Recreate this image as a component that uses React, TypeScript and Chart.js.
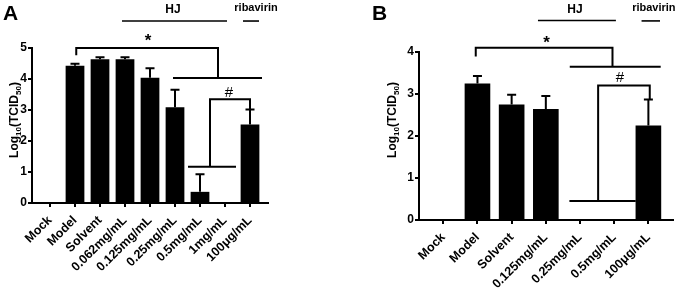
import React, { useEffect, useRef } from "react";
import { Chart, registerables } from "chart.js";
Chart.register(...registerables);

// ---------- Panel A data ----------
const categoriesA = ["Mock", "Model", "Solvent", "0.062mg/mL", "0.125mg/mL", "0.25mg/mL", "0.5mg/mL", "1mg/mL", "100μg/mL"];
const valuesA = [0, 4.43, 4.64, 4.64, 4.04, 3.09, 0.36, 0, 2.53];
const errorsA = [null, 0.06, 0.06, 0.06, 0.31, 0.56, 0.57, null, 0.49];
const yTicksA = [0, 1, 2, 3, 4, 5];

// ---------- Panel B data ----------
const categoriesB = ["Mock", "Model", "Solvent", "0.125mg/mL", "0.25mg/mL", "0.5mg/mL", "100μg/mL"];
const valuesB = [0, 3.25, 2.75, 2.64, 0, 0, 2.25];
const errorsB = [null, 0.18, 0.23, 0.31, null, null, 0.62];
const yTicksB = [0, 1, 2, 3, 4];

// annotation anchors in data units (x = category index, y = value)
const annA = {
  letter: "A",
  star: { x1: 1.05, x2: 6.72, y: 5.0, yL: 4.77, yR: 4.03 },
  starLine: { x1: 4.92, x2: 8.48, y: 4.03 },
  starText: { x: 3.92, y: 5.3 },
  hash: { x1: 6.4, x2: 8.0, y: 3.35, yL: 1.17, yR: 3.02 },
  hashLine: { x1: 5.52, x2: 7.44, y: 1.17 },
  hashText: { x: 7.16, y: 3.55 },
  hj: { x1: 2.88, x2: 7.08, y: 5.87, tx: 4.92, ty: 6.22 },
  riba: { x1: 7.72, x2: 8.36, y: 5.87, tx: 8.24, ty: 6.29 },
};
const annB = {
  letter: "B",
  star: { x1: 0.95, x2: 4.95, y: 4.1, yL: 3.89, yR: 3.65 },
  starLine: { x1: 3.7, x2: 6.36, y: 3.65 },
  starText: { x: 3.02, y: 4.27 },
  hash: { x1: 4.53, x2: 6.04, y: 3.2, yL: 0.45, yR: 2.87 },
  hashLine: { x1: 3.69, x2: 5.63, y: 0.45 },
  hashText: { x: 5.17, y: 3.38 },
  hj: { x1: 2.77, x2: 5.05, y: 4.75, tx: 3.85, ty: 5.0 },
  riba: { x1: 5.8, x2: 6.34, y: 4.74, tx: 6.16, ty: 5.05 },
};

const FONT = "'Liberation Sans', Arial, Helvetica, sans-serif";

type Cfg = {
  cats: string[];
  values: number[];
  errs: (number | null)[];
  yTicks: number[];
  xMin: number;
  xMax: number;
  left: number;
  right: number;
  top: number;
  bottom: number;
  ann: any;
  letterX: number;
  titleX: number;
  titleY: number;
};

function makeChart(canvas: HTMLCanvasElement, cfg: Cfg) {
  const W = canvas.width;
  const H = canvas.height;
  const { cats, values, errs, yTicks, ann } = cfg;

  const plugin = {
    id: "annotations",
    afterDatasetsDraw(chart: any) {
      const ctx = chart.ctx as CanvasRenderingContext2D;
      const xs = chart.scales.x;
      const ys = chart.scales.y;
      const px = (v: number) => xs.getPixelForValue(v);
      const py = (v: number) => ys.getPixelForValue(v);
      ctx.save();
      ctx.strokeStyle = "#000";
      ctx.fillStyle = "#000";
      ctx.lineCap = "butt";

      // error bars
      ctx.lineWidth = 2;
      values.forEach((v, i) => {
        const e = errs[i];
        if (e == null) return;
        const x = px(i);
        const y0 = py(v);
        const y1 = py(v + e);
        ctx.beginPath();
        ctx.moveTo(x, y0);
        ctx.lineTo(x, y1);
        ctx.moveTo(x - 4.5, y1);
        ctx.lineTo(x + 4.5, y1);
        ctx.stroke();
      });

      const bracket = (b: any) => {
        ctx.beginPath();
        ctx.moveTo(px(b.x1), py(b.yL));
        ctx.lineTo(px(b.x1), py(b.y));
        ctx.lineTo(px(b.x2), py(b.y));
        ctx.lineTo(px(b.x2), py(b.yR));
        ctx.stroke();
      };
      const hline = (l: any) => {
        ctx.beginPath();
        ctx.moveTo(px(l.x1), py(l.y));
        ctx.lineTo(px(l.x2), py(l.y));
        ctx.stroke();
      };
      ctx.lineWidth = 2;
      bracket(ann.star);
      hline(ann.starLine);
      bracket(ann.hash);
      hline(ann.hashLine);
      ctx.lineWidth = 1.6;
      hline(ann.hj);
      hline(ann.riba);

      ctx.textAlign = "center";
      ctx.textBaseline = "middle";
      ctx.font = `bold 17px ${FONT}`;
      ctx.fillText("*", px(ann.starText.x), py(ann.starText.y) + 3);
      ctx.font = `15px ${FONT}`;
      ctx.fillText("#", px(ann.hashText.x), py(ann.hashText.y));
      ctx.font = `bold 12px ${FONT}`;
      ctx.fillText("HJ", px(ann.hj.tx), py(ann.hj.ty));
      ctx.font = `bold 11px ${FONT}`;
      ctx.fillText("ribavirin", px(ann.riba.tx), py(ann.riba.ty));

      // panel letter
      ctx.textAlign = "left";
      ctx.textBaseline = "alphabetic";
      ctx.font = `bold 21px ${FONT}`;
      ctx.fillText(ann.letter, cfg.letterX, 20);

      // y-axis title with subscripts
      ctx.translate(cfg.titleX, cfg.titleY);
      ctx.rotate(-Math.PI / 2);
      const parts: [string, boolean][] = [["Log", false], ["10", true], ["(TCID", false], ["50", true], [")", false]];
      const mainF = `bold 12px ${FONT}`;
      const subF = `bold 8px ${FONT}`;
      let total = 0;
      parts.forEach(([t, s]) => {
        ctx.font = s ? subF : mainF;
        total += ctx.measureText(t).width;
      });
      let cx = -total / 2;
      parts.forEach(([t, s]) => {
        ctx.font = s ? subF : mainF;
        ctx.fillText(t, cx, s ? 7 : 4);
        cx += ctx.measureText(t).width;
      });
      ctx.restore();
    },
  };

  return new Chart(canvas, {
    type: "bar",
    data: {
      datasets: [
        {
          data: values.map((v, i) => ({ x: i, y: v })),
          backgroundColor: "#000",
          borderWidth: 0,
          barPercentage: 0.75,
          categoryPercentage: 1,
        },
      ],
    },
    options: {
      responsive: false,
      animation: false,
      events: [],
      layout: {
        autoPadding: false,
        padding: { left: 0, top: cfg.top, right: W - cfg.right, bottom: 0 },
      } as any,
      plugins: { legend: { display: false }, tooltip: { enabled: false } },
      scales: {
        x: {
          type: "linear",
          offset: false,
          min: cfg.xMin,
          max: cfg.xMax,
          afterFit: (s: any) => {
            s.height = H - cfg.bottom;
            s.paddingLeft = 0;
            s.paddingRight = 0;
          },
          afterBuildTicks: (s: any) => {
            s.ticks = cats.map((_, i) => ({ value: i }));
          },
          grid: { display: true, offset: false, drawOnChartArea: false, drawTicks: true, tickLength: 4, lineWidth: 2, color: "#000" },
          border: { display: true, color: "#000", width: 2 },
          ticks: {
            autoSkip: false,
            minRotation: 45,
            maxRotation: 45,
            padding: 6,
            color: "#000",
            font: { family: FONT, size: 12.5, weight: "bold" },
            callback: (v: any) => cats[Math.round(v)] ?? "",
          },
        },
        y: {
          min: 0,
          max: yTicks[yTicks.length - 1],
          afterFit: (s: any) => {
            s.width = cfg.left;
            s.paddingTop = 0;
            s.paddingBottom = 0;
          },
          afterBuildTicks: (s: any) => {
            s.ticks = yTicks.map((v) => ({ value: v }));
          },
          grid: { display: true, drawOnChartArea: false, drawTicks: true, tickLength: 4, lineWidth: 2, color: "#000" },
          border: { display: true, color: "#000", width: 2 },
          ticks: {
            padding: 1,
            color: "#000",
            font: { family: FONT, size: 12, weight: "bold" },
          },
        },
      },
    },
    plugins: [plugin],
  } as any);
}

export default function App() {
  const refA = useRef<HTMLCanvasElement>(null);
  const refB = useRef<HTMLCanvasElement>(null);

  useEffect(() => {
    const a = makeChart(refA.current!, {
      cats: categoriesA,
      values: valuesA,
      errs: errorsA,
      yTicks: yTicksA,
      xMin: -0.72,
      xMax: 8.72,
      left: 32,
      right: 268,
      top: 48,
      bottom: 203,
      ann: annA,
      letterX: 3,
      titleX: 14,
      titleY: 120,
    });
    const b = makeChart(refB.current!, {
      cats: categoriesB,
      values: valuesB,
      errs: errorsB,
      yTicks: yTicksB,
      xMin: -0.71,
      xMax: 6.72,
      left: 79,
      right: 333,
      top: 52,
      bottom: 220,
      ann: annB,
      letterX: 32,
      titleX: 52,
      titleY: 120,
    });
    return () => {
      a.destroy();
      b.destroy();
    };
  }, []);

  return (
    <div style={{ position: "absolute", left: 0, top: 0, width: 685, height: 294, background: "#fff" }}>
      <canvas ref={refA} width={340} height={294} style={{ position: "absolute", left: 0, top: 0 }} />
      <canvas ref={refB} width={345} height={294} style={{ position: "absolute", left: 340, top: 0 }} />
    </div>
  );
}
